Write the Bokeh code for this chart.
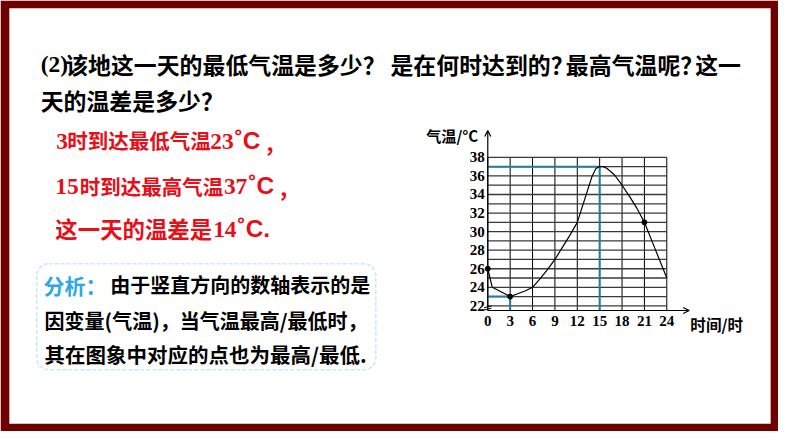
import numpy as np
from bokeh.plotting import figure
from bokeh.models import Range1d, Arrow, OpenHead, BoxAnnotation
from bokeh.embed import file_html
from bokeh.resources import INLINE
from bokeh.core.properties import value

# ---------------- data ----------------
hours = [0, 0.6, 3, 4, 5, 6, 7, 8, 9, 10, 11, 12, 13, 14, 14.5, 15, 15.5, 16, 17, 18, 19, 20, 21, 22, 23, 24]
temps = [26, 24.0, 23, 23.3, 23.6, 24, 24.9, 25.9, 27, 28.3, 29.6, 31, 33.5, 36.0, 36.8, 37, 37, 36.8, 36.1, 35, 33.8, 32.5, 31, 29, 27, 25]
dot_hours = [0, 3, 21]
dot_temps = [26, 23, 31]
x_ticks = [0, 3, 6, 9, 12, 15, 18, 21, 24]
y_ticks = [22, 24, 26, 28, 30, 32, 34, 36, 38]
grid_temps = list(range(22, 39))
min_hour, min_temp = 3, 23
max_hour, max_temp = 15, 37
axis_y = 21.5
x_label = "时间/时"
y_label = "气温/°C"

# ---------------- layout mapping (reference pixels -> data) ----------------
W, H = 778, 431
REF_W, REF_H = 794, 447
HX = 182.7 / 24.0      # px per hour
VY = 154.0 / 16.0      # px per degree
X0_PX, Y38_PX = 497.3, 162.7
XS = -X0_PX / HX
XE = (REF_W - X0_PX) / HX
YT = 38 + Y38_PX / VY
YB = 38 - (REF_H - Y38_PX) / VY
K = 0.975  # font scale


def px(x):
    return (x - X0_PX) / HX


def py(y):
    return 38 - (y - Y38_PX) / VY


p = figure(width=W, height=H, x_range=Range1d(XS, XE), y_range=Range1d(YB, YT),
           output_backend="svg", toolbar_location=None, min_border=0,
           x_axis_location=None, y_axis_location=None)
p.grid.visible = False
p.outline_line_color = None
p.background_fill_color = "white"
p.border_fill_color = "white"

# slide frame
p.quad(left=[px(0)], right=[px(REF_W)], top=[py(0)], bottom=[py(REF_H)],
       fill_color="#6e0000", line_color=None)
p.quad(left=[px(9)], right=[px(786)], top=[py(8)], bottom=[py(439)],
       fill_color="white", line_color=None)

CJK = "Noto Sans CJK SC"
SERIF = "Liberation Serif"
SANS = "Liberation Sans"


def txt(s, x, y, size, font=CJK, color="black", bold=True, align="left"):
    p.text(x=[px(x)], y=[py(y)], text=[s], text_font=value(font),
           text_font_size=f"{size * K:.1f}px", text_color=color,
           text_font_style="bold" if bold else "normal",
           text_align=align, text_baseline="middle")


# title
txt("(2)", 41, 66, 24, SERIF)
txt("该地这一天的最低气温是多少？", 66, 66, 23.5)
txt("是在何时达到的？", 398, 66, 23.5)
txt("最高气温呢？", 577, 66, 23.5)
txt("这一", 709, 66, 23.5)
txt("天的温差是多少？", 41, 103, 23.5)

RED = "#e60f19"
# red answers
txt("3", 57, 146, 24, SERIF, RED)
txt("时到达最低气温", 68, 145, 21, CJK, RED)
txt("23", 214, 146, 24, SERIF, RED)
txt("˚C", 239, 145, 25, SANS, RED)
txt("，", 269, 147, 22, CJK, RED)

txt("15", 56, 193, 24, SERIF, RED)
txt("时到达最高气温", 81, 192, 21, CJK, RED)
txt("37", 228, 193, 24, SERIF, RED)
txt("˚C", 253, 192, 25, SANS, RED)
txt("，", 283, 194, 22, CJK, RED)

txt("这一天的温差是", 56, 236, 23, CJK, RED)
txt("14", 217, 237, 24, SERIF, RED)
txt("˚C.", 242, 236, 25, SANS, RED)

# analysis box
box = BoxAnnotation(left=px(37), right=px(383), top=py(273), bottom=py(383),
                    fill_alpha=0, line_color="#3fc0d8", line_width=1.6,
                    line_dash="4 2", border_radius=12)
p.add_layout(box)
txt("分析：", 44, 295, 21.5, CJK, "#2ea8e0")
txt("由于竖直方向的数轴表示的是", 112, 295, 20.5)
txt("因变量(气温)，当气温最高/最低时，", 45, 332, 20.5)
txt("其在图象中对应的点也为最高/最低.", 45, 367, 21)

# ---------------- chart ----------------
n = len(x_ticks)
p.segment(x0=x_ticks, y0=[axis_y] * n, x1=x_ticks, y1=[38] * n,
          line_color="black", line_width=1)
m = len(grid_temps)
p.segment(x0=[0] * m, y0=grid_temps, x1=[24] * m, y1=grid_temps,
          line_color="#3a3a3a", line_width=1.3)

BLUE = "#237c9c"
p.line([0, min_hour, min_hour], [min_temp, min_temp, axis_y], line_color=BLUE, line_width=2)
p.line([0, max_hour, max_hour], [max_temp, max_temp, axis_y], line_color=BLUE, line_width=2)

p.line(hours, temps, line_color="black", line_width=1.2)
p.scatter(dot_hours, dot_temps, size=5, color="black")

# axes with arrows
p.add_layout(Arrow(end=OpenHead(size=6, line_width=1.2), x_start=0, y_start=axis_y,
                   x_end=27.0, y_end=axis_y, line_width=1.2))
p.add_layout(Arrow(end=OpenHead(size=6, line_width=1.2), x_start=0, y_start=axis_y,
                   x_end=0, y_end=40.9, line_width=1.2))
# axis break mark
p.segment(x0=[-0.5, -0.5], y0=[21.55, 21.8], x1=[0.5, 0.5], y1=[21.75, 22.0],
          line_color="black", line_width=1)

# tick labels
p.text(x=x_ticks, y=[axis_y] * n, text=[str(t) for t in x_ticks],
       text_font=value(SERIF), text_font_style="bold", text_font_size="15px",
       text_align="center", text_baseline="middle", y_offset=10)
p.text(x=[0] * len(y_ticks), y=y_ticks, text=[str(t) for t in y_ticks],
       text_font=value(SERIF), text_font_style="bold", text_font_size="15px",
       text_align="right", text_baseline="middle", x_offset=-3)

txt(y_label, 461, 140, 15.5, CJK, "black", True, "center")
txt(x_label, 704, 336, 16, CJK, "black", True, "left")

open("out.html", "w").write(file_html(p, INLINE))
